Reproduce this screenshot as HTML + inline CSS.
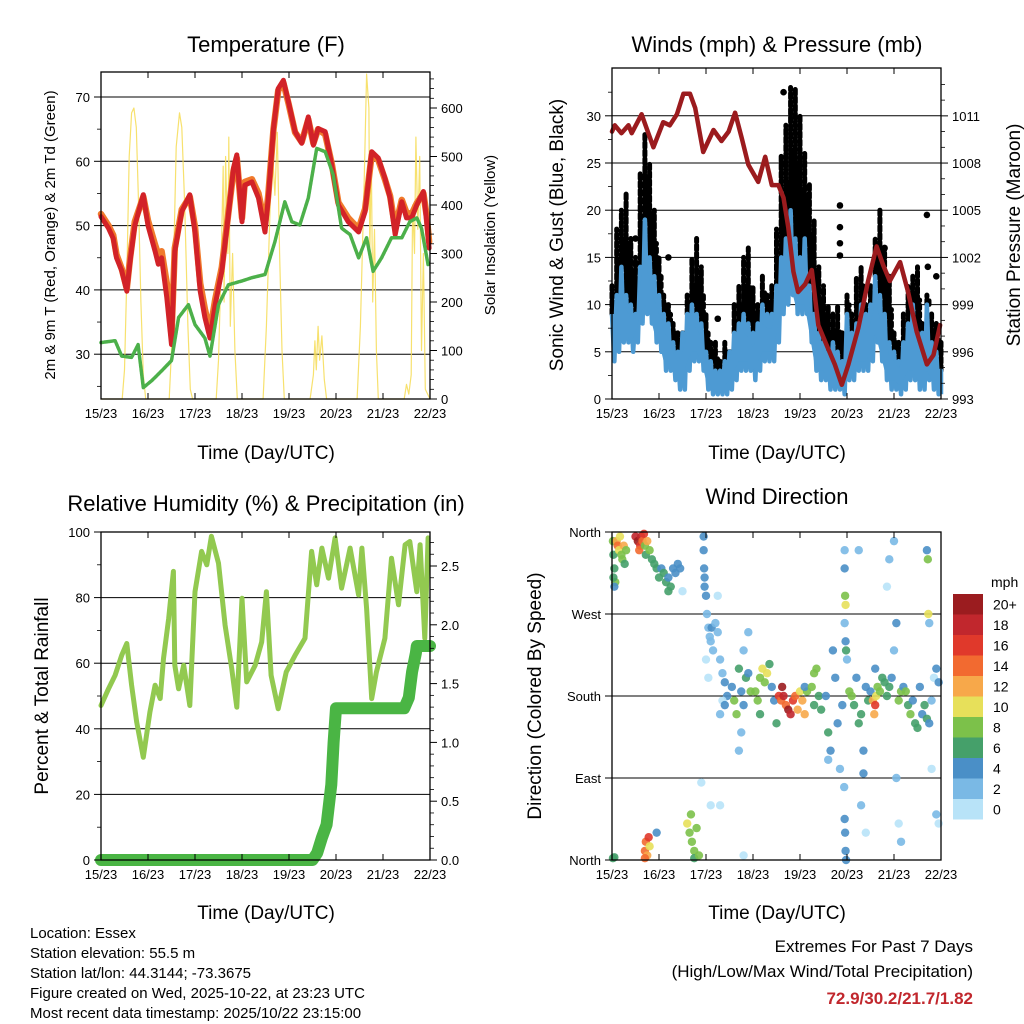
<!DOCTYPE html>
<html><head><meta charset="utf-8"><style>
html,body{margin:0;padding:0;background:#fff;}
svg{display:block;font-family:"Liberation Sans",Arial,sans-serif;}
</style></head><body>
<svg id="fig" width="1024" height="1024" viewBox="0 0 1024 1024" xmlns="http://www.w3.org/2000/svg">
<rect width="1024" height="1024" fill="#fff"/>
<g id="layer"></g>
<g fill="#000" text-anchor="middle">
<text x="266" y="52" font-size="22">Temperature (F)</text>
<text x="777" y="52" font-size="22">Winds (mph) &amp; Pressure (mb)</text>
<text x="266" y="511" font-size="22">Relative Humidity (%) &amp; Precipitation (in)</text>
<text x="777" y="504" font-size="22">Wind Direction</text>
<text transform="translate(55,235) rotate(-90)" font-size="15">2m &amp; 9m T (Red, Orange) &amp; 2m Td (Green)</text>
<text transform="translate(495,235) rotate(-90)" font-size="15">Solar Insolation (Yellow)</text>
<text transform="translate(563,235) rotate(-90)" font-size="19">Sonic Wind &amp; Gust (Blue, Black)</text>
<text transform="translate(1020,235) rotate(-90)" font-size="19">Station Pressure (Maroon)</text>
<text transform="translate(48,696) rotate(-90)" font-size="19">Percent &amp; Total Rainfall</text>
<text transform="translate(541,696) rotate(-90)" font-size="19">Direction (Colored By Speed)</text>
<text x="266" y="459" font-size="19">Time (Day/UTC)</text>
<text x="777" y="459" font-size="19">Time (Day/UTC)</text>
<text x="266" y="919" font-size="19">Time (Day/UTC)</text>
<text x="777" y="919" font-size="19">Time (Day/UTC)</text>
</g>
<g font-size="15" fill="#000">
<text x="30" y="938">Location: Essex</text>
<text x="30" y="958">Station elevation: 55.5 m</text>
<text x="30" y="978">Station lat/lon: 44.3144; -73.3675</text>
<text x="30" y="998">Figure created on Wed, 2025-10-22, at 23:23 UTC</text>
<text x="30" y="1018">Most recent data timestamp: 2025/10/22 23:15:00</text>
</g>
<g text-anchor="end">
<text x="973" y="952" font-size="17">Extremes For Past 7 Days</text>
<text x="973" y="977" font-size="17">(High/Low/Max Wind/Total Precipitation)</text>
<text x="973" y="1004" font-size="17" font-weight="bold" fill="#c1272d">72.9/30.2/21.7/1.82</text>
</g>
</svg>
<script>
// ---------- DATA ----------
const dayLabels = ["15/23","16/23","17/23","18/23","19/23","20/23","21/23","22/23"];
const tempT = [0,0.16,0.26,0.33,0.44,0.55,0.62,0.72,0.9,1.0,1.15,1.22,1.29,1.4,1.5,1.57,1.72,1.89,2.0,2.11,2.21,2.32,2.43,2.57,2.71,2.82,2.89,3.0,3.06,3.21,3.35,3.49,3.56,3.67,3.77,3.88,3.99,4.13,4.27,4.41,4.52,4.62,4.77,4.91,5.05,5.26,5.48,5.62,5.76,5.9,6.04,6.15,6.26,6.4,6.5,6.61,6.72,6.86,6.93,6.98];
const temp2m = [51.4,49.6,48,45,43,39.8,44.5,50,54.8,50,46,44,45,38.8,31.5,46,52.2,54.8,49,39.8,35.7,32.5,37.7,42.9,51.7,58.9,61,50.6,56.3,56.8,54.3,49,54.3,65.1,71.3,72.6,69.2,64.6,62.8,66.9,62.5,65.1,64.6,59.4,53.2,50.6,49,52.2,61.5,60.5,57.4,54.3,48.6,53.7,51.2,51.2,53.2,55.3,50.6,46.5];
const temp9m = [51.8,50,48.5,45.5,43.3,40.2,45,50.6,54.5,50.8,47,45.5,46,41,33,46.5,52.5,54.5,49.8,41,37,33.5,38.5,43.5,52,58.5,60.5,51.2,56.8,57.2,55,50,54.8,65,71,72.2,69,64.5,63,66.5,62.8,65,64.2,59.6,53.6,51.2,49.5,52.6,61,60.2,57.2,54.6,49.6,54,52,51.8,53.5,55,51.5,47.5];
const dewT = [0,0.3,0.44,0.65,0.79,0.9,1.08,1.29,1.5,1.65,1.86,2.0,2.21,2.32,2.5,2.71,3.0,3.21,3.49,3.7,3.91,4.06,4.23,4.41,4.59,4.77,4.94,5.12,5.3,5.48,5.65,5.79,5.97,6.18,6.4,6.57,6.72,6.82,6.96];
const dewV = [31.8,32.1,29.7,29.5,31.5,24.8,25.9,27.4,29,35.7,37.7,34.6,32.5,29.7,37.7,40.8,41.4,41.9,42.4,47.5,53.7,50.6,50.1,54.3,62,61.5,57.9,49.6,48.6,45,48.1,42.9,45,48.1,48.1,50.6,51.2,49.6,43.9];
const solarT = [0,0.45,0.5,0.55,0.6,0.65,0.7,0.75,0.8,0.85,0.9,0.95,1.45,1.5,1.55,1.6,1.67,1.72,1.78,1.85,1.9,1.95,2.45,2.5,2.55,2.6,2.62,2.65,2.7,2.72,2.75,2.8,2.85,2.9,3.45,3.52,3.6,3.65,3.7,3.75,3.8,3.85,3.9,4.45,4.52,4.55,4.58,4.62,4.65,4.7,4.75,4.8,5.45,5.52,5.6,5.65,5.7,5.72,5.75,5.78,5.82,5.86,5.9,6.45,6.5,6.55,6.6,6.63,6.67,6.7,6.74,6.78,6.82,6.86,6.9,7.0];
const solarV = [0,0,60,250,500,590,600,560,400,200,50,0,0,100,300,520,590,560,400,150,20,0,0,80,250,480,200,500,300,540,150,300,100,0,0,150,400,510,420,550,300,100,0,0,50,120,60,150,80,130,40,0,0,150,450,670,600,300,500,200,350,100,0,0,30,10,50,400,300,540,350,500,100,300,20,0];
const pressT = [0,0.06,0.2,0.35,0.42,0.63,0.88,1.09,1.23,1.38,1.52,1.66,1.77,1.94,2.16,2.33,2.48,2.62,2.76,2.9,3.11,3.26,3.4,3.54,3.65,3.75,3.86,3.96,4.11,4.25,4.39,4.57,4.74,4.89,5.03,5.24,5.45,5.63,5.77,5.91,6.13,6.3,6.48,6.7,6.84,6.98];
const pressV = [1010.0,1010.4,1009.9,1010.4,1009.9,1011.1,1009.0,1010.6,1010.4,1011.1,1012.4,1012.4,1011.5,1008.7,1010.1,1009.4,1010.0,1011.2,1009.6,1007.9,1006.8,1008.4,1006.6,1006.6,1005.8,1003.9,1001.1,999.8,1000.3,1001.2,997.7,996.4,995.2,993.9,995.2,997.5,1000.5,1002.7,1001.5,1000.5,1001.7,999.8,997.3,995.2,995.8,997.7];
const sonicHi = [9,11,14,11,10,9,14,19,15,13,11,9,8,6,5,7,9,10,9,8,5,4,3,3,4,5,7,8,9,8,7,8,10,9,9,12,15,17,20,17,15,17,12,9,7,6,5,6,5,4,9,7,8,10,9,10,13,11,9,6,5,4,6,8,10,7,7,10,6,5,3];
const sonicLo = [4,5,6,6,5,6,8,9,8,6,5,3,3,2,1,1,3,4,4,3,1,0.5,0.5,0.5,0.5,1,2,3,3,3,2,3,4,4,4,6,9,10,11,9,9,9,6,3,2,2,1,1,1,0.5,2,2,3,3,3,4,6,4,2,1,1,0.5,1,2,2,1,1,2,1,0.5,0.5];
const gustHi = [12,18,20,22,17,15,24,28,25,20,15,11,10,8,7,5.5,11,15,17,14,9,6,6,4,6,5,10,12,15,16,12,10,13,11,12,18,26,29,33,33,30,26,23,19,14,12,10,9,10,7,11,9,13,14,10,12,17,20,16,13,7,6,9,12,13,14,8,11,9,8,6];
const gustExtraT = [4.85,4.85,4.85,4.85,1.2,2.25,6.7,6.9,6.72,3.65,0.5,5.8];
const gustExtraV = [20.5,18.2,16.5,15.2,15,8.5,19.5,13,14,32.5,17,16];
const rhT = [0,0.16,0.3,0.44,0.55,0.65,0.76,0.9,1.04,1.15,1.26,1.33,1.44,1.54,1.57,1.65,1.76,1.89,2.0,2.14,2.25,2.35,2.5,2.64,2.78,2.89,3.0,3.1,3.28,3.42,3.52,3.62,3.77,3.94,4.13,4.34,4.48,4.59,4.7,4.84,4.98,5.12,5.3,5.48,5.55,5.65,5.76,5.86,6.04,6.18,6.33,6.47,6.57,6.72,6.79,6.89,6.96];
const rhV = [47.1,52.2,56.3,62.4,66,53.3,42,31.3,45.1,53.3,49.2,61.4,73.7,88,59.4,52.2,59.4,47.1,81.8,94.1,90,98.7,90.5,71.6,58.4,46.6,79.8,54.3,59.4,66.5,81.8,56.3,46.1,57.3,62.4,67.6,94.1,83.9,95.1,85.9,98.2,82.9,95.1,80.8,95.1,76.7,49.2,57.3,67.6,92,77.8,96.1,97.1,81.8,96.1,67.6,98.2];
const precipT = [0,4.5,4.6,4.7,4.8,4.9,4.95,5.0,6.45,6.55,6.62,6.7,6.72,7.0];
const precipV = [0,0,0.06,0.19,0.3,0.64,1.0,1.29,1.29,1.38,1.6,1.76,1.82,1.82];
const dirT = [0.02,0.03,0.05,0.07,0.1,0.12,0.15,0.17,0.2,0.22,0.25,0.27,0.3,0.05,0.03,
0.5,0.55,0.6,0.62,0.58,0.65,0.7,0.72,0.75,0.8,0.85,0.9,0.95,0.68,
1.0,1.05,1.1,1.15,1.2,1.25,1.3,1.35,1.4,1.45,1.5,1.2,
1.95,1.95,1.96,1.97,1.97,
2.0,2.02,2.05,2.08,2.1,2.12,2.15,2.2,2.25,2.3,2.35,2.4,2.45,2.0,2.05,2.25,2.3,2.35,1.9,2.1,2.4,
2.55,2.6,2.65,2.7,2.75,2.8,2.85,2.8,2.9,2.95,2.9,2.7,2.75,
3.05,3.1,3.15,3.2,3.25,3.3,3.35,3.15,3.4,3.45,3.5,
3.55,3.6,3.62,3.65,3.7,3.75,3.8,3.85,3.9,3.95,4.0,4.05,4.1,4.15,4.1,
4.25,4.3,4.35,4.4,4.45,4.3,
4.55,4.6,4.65,4.6,4.7,4.75,4.8,4.85,4.9,4.95,4.95,4.96,4.97,4.95,4.97,4.98,4.95,4.96,4.97,4.98,4.94,5.0,
5.05,5.1,5.15,5.2,5.25,5.3,5.35,5.4,5.45,5.5,5.25,5.3,5.35,5.4,
5.55,5.6,5.62,5.58,5.65,5.7,5.75,5.8,5.6,
5.85,5.9,5.95,6.0,6.05,6.1,6.15,6.2,5.85,5.9,6.0,6.05,6.1,6.15,
6.25,6.3,6.35,6.4,6.45,6.5,6.55,
6.6,6.65,6.7,6.75,6.8,6.85,6.9,6.95,6.7,6.72,6.73,6.75,6.8,6.9,6.95,
0.02,0.05,0.7,0.72,0.75,0.78,0.8,0.7,0.95,1.6,1.65,1.7,1.75,1.8,1.75,1.85,1.68,2.3,2.8];
const dirV = [350,335,320,305,350,345,340,355,335,330,345,325,340,300,310,
355,350,345,355,340,350,345,335,350,340,330,325,320,358,
310,320,315,305,310,300,320,315,325,320,295,295,
355,340,320,310,300,
290,270,255,245,240,255,230,260,250,220,205,195,180,220,200,290,160,175,85,60,170,
190,175,160,210,185,170,200,230,205,185,250,120,140,
185,175,200,210,195,205,215,160,190,175,150,
180,175,190,180,170,165,160,175,180,165,185,175,160,185,190,
190,205,210,180,165,170,
180,140,120,110,230,200,150,100,170,340,320,290,280,260,240,230,45,30,10,0,80,220,
185,180,170,200,150,160,120,190,175,185,340,60,95,30,
175,170,180,160,190,185,200,195,210,
180,190,200,230,260,175,185,190,300,330,350,90,40,20,
185,170,160,175,150,145,190,
160,170,155,150,175,200,210,195,340,330,270,260,100,50,40,
2,3,10,20,5,25,15,2,30,40,30,20,10,35,2,5,50,60,5];
const dirS = [8,6,6,8,12,14,10,10,8,8,12,6,8,4,6,
18,20,16,18,14,14,8,6,12,8,6,6,6,16,
6,4,6,6,4,6,4,4,4,4,0,6,
4,4,4,4,4,
4,2,2,2,2,4,2,2,2,2,2,4,4,0,0,0,2,0,0,0,4,
4,8,8,6,4,4,6,2,4,8,2,2,2,
8,8,8,10,8,10,6,6,4,4,6,
16,14,20,18,14,20,18,16,14,12,10,12,12,8,4,
8,8,8,6,6,6,
4,6,4,2,4,4,4,2,4,2,4,8,10,2,4,6,4,4,4,4,2,2,
8,8,6,4,6,6,4,4,6,4,2,2,4,0,
12,16,10,12,8,8,6,6,4,
6,6,4,2,4,8,8,4,0,2,2,2,0,2,
8,6,8,4,6,6,4,
4,6,6,4,2,0,4,4,4,8,10,2,0,2,0,
6,6,14,14,12,16,10,14,4,10,8,8,8,8,6,8,8,0,0];
const speedLabels = ["20+","18","16","14","12","10","8","6","4","2","0"];
const speedColors = ["#9b1c1f","#c1272d","#e0392b","#f26a30","#f7a84a","#e7e05a","#7cc14a","#45a06a","#4a8fc7","#7ab9e5","#b8e3f8"];

// ---------- DRAWING ----------
const NS = "http://www.w3.org/2000/svg";
const layer = document.getElementById("layer");
function mk(tag, attrs, parent) {
  const e = document.createElementNS(NS, tag);
  for (const k in attrs) e.setAttribute(k, attrs[k]);
  (parent || layer).appendChild(e);
  return e;
}
function panel(x0, x1, y0, y1) {
  return { x0, x1, y0, y1, x: d => x0 + d * (x1 - x0) / 7 };
}
const P1 = panel(101, 430, 72, 399), P2 = panel(612, 941, 68, 399), P3 = panel(101, 430, 532, 860), P4 = panel(612, 941, 532, 860);
const yT = v => 97 + (70 - v) * 6.43;
const ySol = v => 399 - v * 0.485;
const yW = v => 399 - v * 9.44;
const yP = v => 399 - (v - 993) * 15.73;
const yRH = v => 860 - v * 3.28;
const yPr = v => 860 - v * 117.6;
const yDir = v => 860 - v * 0.9111;

function pts(P, ts, vs, yf) { return ts.map((t, i) => P.x(t).toFixed(1) + "," + yf(vs[i]).toFixed(1)).join(" "); }

function gridlines(P, vals, yf, name) {
  const g = mk("g", {});
  
  
  vals.forEach(v => {
    const l = mk("line", { x1: P.x0, x2: P.x1, y1: yf(v), y2: yf(v), stroke: "#000", "stroke-width": 1 }, g);
    
    
  });
}
function xaxis(P, name) {
  const g = mk("g", { "font-size": 13, "text-anchor": "middle" });
  
  
  dayLabels.forEach((lab, i) => {
    const x = P.x(i);
    mk("line", { x1: x, x2: x, y1: P.y1, y2: P.y1 - 6, stroke: "#000" }, g);
    mk("line", { x1: x, x2: x, y1: P.y0, y2: P.y0 + 6, stroke: "#000" }, g);
    const t = mk("text", { x: x, y: P.y1 + 19 }, g);
    t.textContent = lab;
    
    
  });
}
function yaxis(P, side, vals, labels, yf, minor, name, fs) {
  const g = mk("g", { "font-size": fs || 13, "text-anchor": side === "left" ? "end" : "start" });
  
  
  const x = side === "left" ? P.x0 : P.x1, dir = side === "left" ? -1 : 1;
  (minor || []).forEach(v => mk("line", { x1: x, x2: x + dir * 4, y1: yf(v), y2: yf(v), stroke: "#000", "stroke-width": 0.8 }, g));
  vals.forEach((v, i) => {
    mk("line", { x1: x, x2: x + dir * 7, y1: yf(v), y2: yf(v), stroke: "#000" }, g);
    const t = mk("text", { x: x + dir * 11, y: yf(v) + 5 }, g);
    t.textContent = labels[i];
    
    
  });
}
function frame(P, name) {
  const r = mk("rect", { x: P.x0, y: P.y0, width: P.x1 - P.x0, height: P.y1 - P.y0, fill: "none", stroke: "#000", "stroke-width": 1.3 });
  
  
}
function line(P, ts, vs, yf, color, w, name, extra) {
  const a = Object.assign({ points: pts(P, ts, vs, yf), fill: "none", stroke: color, "stroke-width": w, "stroke-linejoin": "round", "stroke-linecap": "round" }, extra || {});
  const l = mk("polyline", a);
  
  
  return l;
}

// Panel 1: Temperature
gridlines(P1, [30, 40, 50, 60, 70], yT, "temperature-gridlines");
line(P1, solarT, solarV, ySol, "#f6dc55", 1.2, "solar-insolation-line", { opacity: 0.85 });
line(P1, tempT, temp9m, yT, "#f07a2c", 6.5, "temperature-9m-line");
line(P1, tempT, temp2m, yT, "#d22228", 5, "temperature-2m-line");
line(P1, dewT, dewV, yT, "#4cb04a", 3.5, "dewpoint-line", { "stroke-dasharray": "3 1.2" });
frame(P1, "temperature-plot-frame");
xaxis(P1, "temperature-x-axis");
yaxis(P1, "left", [30, 40, 50, 60, 70], ["30", "40", "50", "60", "70"], yT, [25, 35, 45, 55, 65], "temperature-y-axis");
yaxis(P1, "right", [0, 100, 200, 300, 400, 500, 600], ["0", "100", "200", "300", "400", "500", "600"], ySol, [20,40,60,80,120,140,160,180,220,240,260,280,320,340,360,380,420,440,460,480,520,540,560,580,620,640,660], "solar-y-axis");

// Panel 2: Winds
gridlines(P2, [5, 10, 15, 20, 25, 30], yW, "wind-gridlines");
const tStep = sonicHi.map((_, i) => i * 0.1);
const gustG = mk("g", {});


tStep.forEach((t, i) => {
  const x = P2.x(t);
  const seg = mk("line", { x1: x, x2: x, y1: yW(sonicHi[i]), y2: yW(gustHi[i]), stroke: "#000", "stroke-width": 5, "stroke-linecap": "round", "stroke-dasharray": "5 3" }, gustG);
  
  
  const x2 = P2.x(Math.min(7, t + 0.05));
  const mid = (sonicHi[i] + gustHi[i]) / 2;
  const seg2 = mk("line", { x1: x2, x2: x2, y1: yW(sonicHi[i]), y2: yW(mid), stroke: "#000", "stroke-width": 4.5, "stroke-linecap": "round", "stroke-dasharray": "4 4" }, gustG);
  
  
});
gustExtraT.forEach((t, i) => {
  const c = mk("circle", { cx: P2.x(t), cy: yW(gustExtraV[i]), r: 3.3, fill: "#000" }, gustG);
  
  
});
const zig = [];
tStep.forEach((t, i) => { zig.push(P2.x(t) + "," + yW(sonicHi[i])); zig.push(P2.x(Math.min(7, t + 0.05)) + "," + yW(sonicLo[i])); });
const zl = mk("polyline", { points: zig.join(" "), fill: "none", stroke: "#4d9ad3", "stroke-width": 4.5, "stroke-linejoin": "round" });


const bandPts = tStep.map((t, i) => P2.x(t) + "," + yW((sonicHi[i] + sonicLo[i]) / 2 + 1)).concat(tStep.slice().reverse().map((t, j) => { const i = tStep.length - 1 - j; return P2.x(t) + "," + yW(sonicLo[i] + 1); })).join(" ");
const band = mk("polygon", { points: bandPts, fill: "#4d9ad3" });


line(P2, pressT, pressV, yP, "#9b1b1e", 4.5, "pressure-line");
frame(P2, "winds-plot-frame");
xaxis(P2, "winds-x-axis");
yaxis(P2, "left", [0, 5, 10, 15, 20, 25, 30], ["0", "5", "10", "15", "20", "25", "30"], yW, [2.5, 7.5, 12.5, 17.5, 22.5, 27.5, 32.5], "wind-y-axis");
yaxis(P2, "right", [993, 996, 999, 1002, 1005, 1008, 1011], ["993", "996", "999", "1002", "1005", "1008", "1011"], yP, [994,995,997,998,1000,1001,1003,1004,1006,1007,1009,1010,1012,1013], "pressure-y-axis");

// Panel 3: RH & precip
gridlines(P3, [20, 40, 60, 80], yRH, "humidity-gridlines");
line(P3, rhT, rhV, yRH, "#92c950", 5, "humidity-line");
line(P3, precipT, precipV, yPr, "#4ab544", 12, "precipitation-line");
frame(P3, "humidity-plot-frame");
xaxis(P3, "humidity-x-axis");
yaxis(P3, "left", [0, 20, 40, 60, 80, 100], ["0", "20", "40", "60", "80", "100"], yRH, [10, 30, 50, 70, 90], "humidity-y-axis");
yaxis(P3, "right", [0, 0.5, 1, 1.5, 2, 2.5], ["0.0", "0.5", "1.0", "1.5", "2.0", "2.5"], yPr, [0.1,0.2,0.3,0.4,0.6,0.7,0.8,0.9,1.1,1.2,1.3,1.4,1.6,1.7,1.8,1.9,2.1,2.2,2.3,2.4,2.6,2.7], "precipitation-y-axis");

// Panel 4: wind direction
gridlines(P4, [90, 180, 270], yDir, "direction-gridlines");
const dg = mk("g", {});


function spColor(s) { const idx = Math.max(0, 10 - Math.min(10, Math.floor(s / 2))); return speedColors[idx]; }
dirT.forEach((t, i) => {
  const c = mk("circle", { cx: P4.x(t), cy: yDir(dirV[i]), r: 4.2, fill: spColor(dirS[i]), opacity: 0.9 }, dg);
  
  
});
frame(P4, "direction-plot-frame");
xaxis(P4, "direction-x-axis");
yaxis(P4, "left", [0, 90, 180, 270, 360], ["North", "East", "South", "West", "North"], yDir, [], "direction-y-axis");

// Colorbar
const cb = mk("g", { "font-size": 14 });


const mph = mk("text", { x: 991, y: 587 }, cb);
mph.textContent = "mph";


speedLabels.forEach((lab, i) => {
  const y = 594 + i * 20.5;
  const r = mk("rect", { x: 953, y: y, width: 30, height: 20.5, fill: speedColors[i] }, cb);
  
  
  const t = mk("text", { x: 993, y: y + 15.5 }, cb);
  t.textContent = lab;
  
  
});
</script>
</body></html>
